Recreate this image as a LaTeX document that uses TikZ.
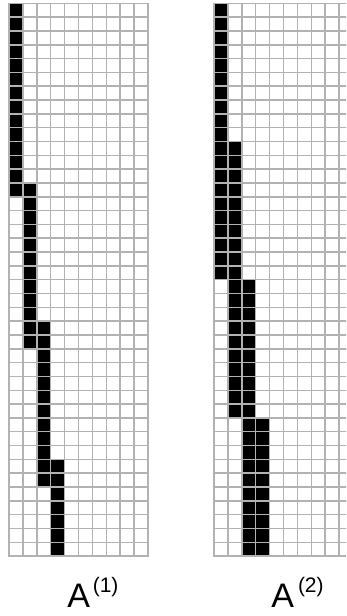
\documentclass[tikz,border=0pt]{standalone}
\usepackage{fontspec}
\setmainfont{Liberation Sans}
\definecolor{gridgray}{RGB}{178,178,178}
\begin{document}
\begin{tikzpicture}[x=1pt,y=-1pt,
  gridline/.style={draw=gridgray, line width=1.5pt, line cap=rect},
  blackcell/.style={fill=black},
  biglabel/.style={inner sep=0pt, font=\fontsize{34}{34}\selectfont},
  suplabel/.style={inner sep=0pt, font=\fontsize{21}{21}\selectfont}]
\def\cw{13.9}
\def\ch{13.82}
\useasboundingbox (0,0) rectangle (346,616);
\clip (0,0) rectangle (346,616);
% left grid A(1)
\begin{scope}[shift={(9,3.3)}]
  \foreach \c/\a/\b in {0/0/13, 1/13/24, 2/23/34, 3/33/39}
    \foreach \r in {\a,...,\b}
      \fill[blackcell] (\c*\cw,\r*\ch) rectangle ++(\cw,\ch);
  \foreach \i in {0,...,10}
    \draw[gridline] (\i*\cw,0) -- (\i*\cw,40*\ch);
  \foreach \j in {0,...,40}
    \draw[gridline] (0,\j*\ch) -- (10*\cw,\j*\ch);
\end{scope}
% right grid A(2)
\begin{scope}[shift={(214,3.3)}]
  \foreach \c/\a/\b in {0/0/19, 1/10/29, 2/20/39, 3/30/39}
    \foreach \r in {\a,...,\b}
      \fill[blackcell] (\c*\cw,\r*\ch) rectangle ++(\cw,\ch);
  \foreach \i in {0,...,10}
    \draw[gridline] (\i*\cw,0) -- (\i*\cw,40*\ch);
  \foreach \j in {0,...,40}
    \draw[gridline] (0,\j*\ch) -- (10*\cw,\j*\ch);
\end{scope}
% labels
\node[biglabel, anchor=base] (A1) at (78.8,607.3) {A};
\node[suplabel, anchor=base west] (S1) at (92.6,592.3) {(1)};
\node[biglabel, anchor=base] (A2) at (282.6,607.3) {A};
\node[suplabel, anchor=base west] (S2) at (297.8,592.3) {(2)};
\end{tikzpicture}
\end{document}
